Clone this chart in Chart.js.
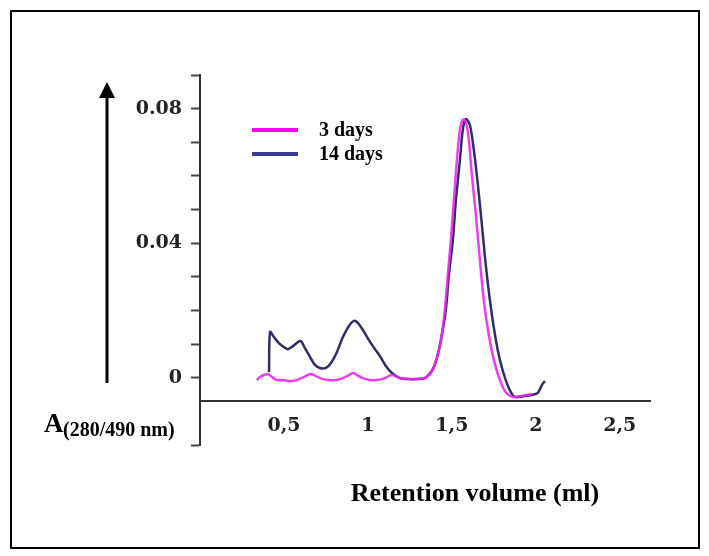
<!DOCTYPE html>
<html>
<head>
<meta charset="utf-8">
<title>Elution profile</title>
<script src="https://cdn.jsdelivr.net/npm/chart.js@4.4.1/dist/chart.umd.min.js"></script>
<style>
  html, body { margin: 0; padding: 0; background: #fff; }
  #wrap { position: relative; width: 709px; height: 556px; }
  #frame { position: absolute; left: 10px; top: 10px; width: 686px; height: 535px; border: 2px solid #000; pointer-events: none; }
</style>
</head>
<body>
<div id="wrap">
  <canvas id="chartElution" width="709" height="556"></canvas>
  <div id="frame"></div>
</div>
<script>
// series
const seriesLabels = ['3 days', '14 days'];

const volume3d = [0.339, 0.357, 0.381, 0.405, 0.429, 0.458, 0.494, 0.536, 0.577, 0.619, 0.655, 0.679, 0.714, 0.762, 0.810,
  0.851, 0.887, 0.911, 0.935, 0.970, 1.012, 1.054, 1.101, 1.143, 1.190, 1.238, 1.292, 1.339, 1.381, 1.411, 1.435, 1.458,
  1.476, 1.494, 1.512, 1.530, 1.548, 1.565, 1.583, 1.601, 1.619, 1.643, 1.667, 1.690, 1.720, 1.750, 1.786, 1.821, 1.863,
  1.917, 1.982];
const abs3d = [-0.0007, 0.0002, 0.0008, 0.0011, 0.0002, -0.0007, -0.0007, -0.001, -0.0007, 0.0002, 0.0011, 0.0008, -0.0001,
  -0.0007, -0.0007, -0.0001, 0.0008, 0.0014, 0.0008, -0.0001, -0.0007, -0.0007, -0.0001, 0.0008, -0.0001, -0.0004, -0.0004,
  -0.0001, 0.002, 0.0059, 0.0112, 0.0201, 0.0305, 0.0409, 0.0528, 0.0647, 0.0737, 0.0767, 0.0761, 0.0707, 0.0603, 0.0484,
  0.035, 0.0231, 0.0127, 0.0053, -0.0007, -0.0043, -0.0057, -0.0054, -0.0048];

const volume14d = [0.411, 0.417, 0.440, 0.470, 0.500, 0.524, 0.554, 0.583, 0.601, 0.625, 0.655, 0.685, 0.714, 0.750, 0.780,
  0.815, 0.851, 0.887, 0.917, 0.940, 0.970, 1.006, 1.042, 1.071, 1.107, 1.143, 1.190, 1.238, 1.292, 1.339, 1.381, 1.411,
  1.435, 1.464, 1.482, 1.506, 1.524, 1.548, 1.565, 1.583, 1.607, 1.631, 1.655, 1.679, 1.702, 1.732, 1.762, 1.786, 1.815,
  1.845, 1.875, 1.935, 1.982, 2.012, 2.036, 2.054];
const abs14d = [0.0017, 0.0136, 0.0121, 0.0103, 0.0091, 0.0085, 0.0094, 0.0106, 0.0109, 0.0088, 0.0062, 0.0038, 0.0029,
  0.0029, 0.0044, 0.0076, 0.0121, 0.0154, 0.0169, 0.0163, 0.0142, 0.0112, 0.0085, 0.0065, 0.0035, 0.0014, -0.0001, -0.0004,
  -0.0004, -0.0001, 0.002, 0.0059, 0.0112, 0.0201, 0.0305, 0.0409, 0.0528, 0.0647, 0.0737, 0.0769, 0.0752, 0.0677, 0.0573,
  0.0454, 0.0335, 0.021, 0.0112, 0.0053, 0.0002, -0.0037, -0.0057, -0.0054, -0.0051, -0.0045, -0.0022, -0.001];

// axes
const yTickValues = [-0.02, 0, 0.01, 0.02, 0.03, 0.04, 0.05, 0.06, 0.07, 0.08, 0.09];
const yLabelValues = [0, 0.04, 0.08];
const xLabelValues = [0.5, 1, 1.5, 2, 2.5];
const yMin = -0.02, yMax = 0.09;
const xMin = 0, xMax = 2.68;
const xAxisAt = -0.007;

const toPoints = (xs, ys) => xs.map((x, i) => ({ x: x, y: ys[i] }));
const near = (a, b) => Math.abs(a - b) < 1e-6;

const serifBold = (size) => `bold ${size}px "Liberation Serif", "Times New Roman", serif`;
const tickFont = { family: '"DejaVu Serif", serif', weight: 'bold', size: 19 };

// arrow, axis captions and legend
const decorations = {
  id: 'decorations',
  afterDraw(chart) {
    const ctx = chart.ctx;
    ctx.save();

    // arrow next to the y axis
    ctx.strokeStyle = '#000';
    ctx.fillStyle = '#000';
    ctx.lineWidth = 3;
    ctx.beginPath();
    ctx.moveTo(107, 383);
    ctx.lineTo(107, 94);
    ctx.stroke();
    ctx.beginPath();
    ctx.moveTo(107, 82);
    ctx.lineTo(99, 98);
    ctx.lineTo(115, 98);
    ctx.closePath();
    ctx.fill();

    // y caption with subscript
    ctx.textBaseline = 'alphabetic';
    ctx.textAlign = 'left';
    ctx.font = serifBold(27);
    ctx.fillText('A', 44, 432);
    ctx.font = serifBold(20);
    ctx.fillText('(280/490 nm)', 63, 436);

    // x caption
    ctx.textAlign = 'center';
    ctx.font = serifBold(26);
    ctx.fillText('Retention volume (ml)', 475, 501);

    // legend
    ctx.textAlign = 'left';
    ctx.textBaseline = 'middle';
    ctx.font = serifBold(20);
    chart.data.datasets.forEach((ds, i) => {
      const y = 130 + i * 24;
      ctx.strokeStyle = ds.legendColor;
      ctx.lineWidth = 4;
      ctx.beginPath();
      ctx.moveTo(252, y);
      ctx.lineTo(298, y);
      ctx.stroke();
      ctx.fillStyle = '#000';
      ctx.fillText(ds.label, 319, y + 1);
    });

    ctx.restore();
  }
};

const data = {
  datasets: [
    {
      label: seriesLabels[0],
      data: toPoints(volume3d, abs3d),
      borderColor: 'rgba(236, 40, 236, 0.9)',
      legendColor: '#ff00ff',
      borderWidth: 2.5,
      pointRadius: 0,
      tension: 0.3,
      fill: false
    },
    {
      label: seriesLabels[1],
      data: toPoints(volume14d, abs14d),
      borderColor: '#2f2f66',
      legendColor: '#3a3a96',
      borderWidth: 2.5,
      pointRadius: 0,
      tension: 0.3,
      fill: false
    }
  ]
};

const config = {
  type: 'line',
  data: data,
  options: {
    responsive: false,
    animation: false,
    layout: {
      padding: { left: 120, top: 75, right: 59, bottom: 111 }
    },
    plugins: {
      legend: { display: false },
      tooltip: { enabled: false },
      title: { display: false }
    },
    scales: {
      x: {
        type: 'linear',
        position: { y: xAxisAt },
        min: xMin,
        max: xMax,
        afterBuildTicks: (scale) => { scale.ticks = xLabelValues.map(v => ({ value: v })); },
        grid: { display: false, drawTicks: false },
        border: { display: true, color: '#333', width: 2 },
        ticks: {
          autoSkip: false,
          maxRotation: 0,
          padding: 13,
          color: '#222',
          font: tickFont,
          callback: (v) => String(v).replace('.', ',')
        }
      },
      y: {
        type: 'linear',
        position: 'left',
        min: yMin,
        max: yMax,
        afterBuildTicks: (scale) => { scale.ticks = yTickValues.map(v => ({ value: v })); },
        afterFit: (scale) => { scale.width = 80; },
        grid: {
          drawOnChartArea: false,
          drawTicks: true,
          tickLength: 9,
          tickWidth: 2,
          tickColor: '#444'
        },
        border: { display: true, color: '#333', width: 2 },
        ticks: {
          autoSkip: false,
          padding: 9,
          color: '#222',
          font: tickFont,
          callback: (v) => {
            const hit = yLabelValues.find(t => near(t, v));
            return hit === undefined ? '' : (hit === 0 ? '0' : hit.toFixed(2));
          }
        }
      }
    }
  },
  plugins: [decorations]
};

const ctx = document.getElementById('chartElution');
new Chart(ctx, config);
</script>
</body>
</html>
